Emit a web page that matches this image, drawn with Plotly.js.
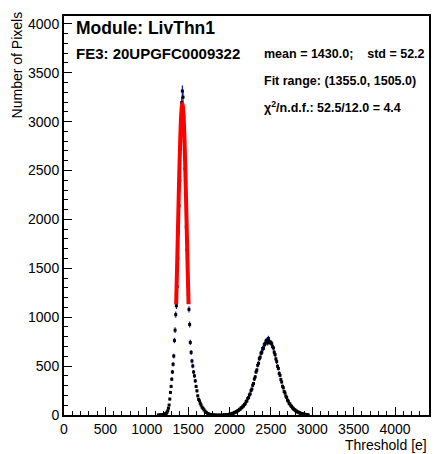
<!DOCTYPE html>
<html>
<head>
<meta charset="utf-8">
<script src="https://cdn.plot.ly/plotly-3.0.1.min.js"></script>
<style>
  html, body { margin: 0; padding: 0; background: #ffffff; }
  #chart { width: 434px; height: 454px; }
</style>
</head>
<body>
<div id="chart"></div>
<script>
// Threshold bin centres [e] and number of pixels per bin
const thresholdBins = [
  1140, 1160, 1180, 1195, 1210, 1222, 1230, 1238, 1246, 1254, 1262, 1270, 1278, 1286, 1294, 1302,
  1310, 1318, 1326, 1334, 1342, 1350, 1358, 1366, 1374, 1382, 1390, 1398, 1406, 1414, 1422, 1430,
  1438, 1446, 1454, 1462, 1470, 1478, 1486, 1494, 1502, 1510, 1518, 1526, 1536, 1546, 1556, 1566,
  1576, 1586, 1596, 1606, 1616, 1626, 1636, 1646, 1656, 1668, 1680, 1692, 1706, 1720, 1736, 1752,
  1770, 1790, 1810, 1830, 1860, 1890, 1920, 1940,
  1960, 1970, 1980, 1990, 2000, 2010, 2020, 2030, 2040, 2050, 2060, 2070, 2080, 2090, 2100, 2110,
  2120, 2130, 2140, 2150, 2160, 2170, 2180, 2190, 2200, 2210, 2220, 2230, 2240, 2250, 2260, 2270,
  2280, 2290, 2300, 2310, 2320, 2330, 2340, 2350, 2360, 2370, 2380, 2390, 2400, 2410, 2420, 2430,
  2440, 2450, 2460, 2470, 2480, 2490, 2500, 2510, 2520, 2530, 2540, 2550, 2560, 2570, 2580, 2590,
  2600, 2610, 2620, 2630, 2640, 2650, 2660, 2670, 2680, 2690, 2700, 2710, 2720, 2730, 2740, 2750,
  2760, 2770, 2780, 2790, 2800, 2810, 2820, 2830, 2840, 2850, 2860, 2870, 2880, 2890, 2900, 2910,
  2920, 2930, 2940, 2950
];
const pixelCounts = [
  1, 2, 3, 4, 6, 10, 14, 20, 30, 44, 70, 102, 163, 231, 292, 366,
  440, 518, 603, 762, 867, 1026, 1118, 1314, 1602, 1873, 2140, 2398, 2720, 2975, 3194, 3313,
  3250, 3050, 2800, 2517, 2261, 1924, 1687, 1416, 1230, 1080, 925, 742, 640, 552, 501, 440,
  400, 349, 292, 247, 196, 160, 145, 120, 102, 80, 68, 52, 38, 26, 16, 10,
  5, 3, 2, 1, 1, 1, 2, 2,
  3, 2, 5, 4, 8, 7, 12, 13, 18, 19, 26, 27, 35, 36, 46, 48,
  58, 60, 73, 75, 89, 93, 108, 115, 136, 144, 170, 178, 205, 216, 250, 266,
  304, 322, 368, 390, 440, 460, 508, 528, 575, 590, 632, 642, 680, 682, 720, 728,
  756, 762, 738, 782, 752, 742, 740, 728, 698, 686, 642, 618, 574, 546, 498, 476,
  426, 406, 362, 338, 294, 278, 240, 225, 194, 180, 152, 141, 119, 112, 95, 88,
  73, 68, 56, 52, 42, 40, 31, 30, 23, 22, 16, 15, 11, 10, 7, 7,
  4, 4, 2, 2
];

// Gaussian fit curve over the fit range
const fitX = [1355, 1365, 1375, 1385, 1395, 1405, 1415, 1425, 1430, 1435, 1445, 1455, 1465, 1475, 1485, 1495, 1505];
const fitY = [1133, 1465, 1826, 2193, 2540, 2836, 3052, 3165, 3180, 3165, 3052, 2836, 2540, 2193, 1826, 1465, 1133];

// Axis tick labels
const xTickVals = [0, 500, 1000, 1500, 2000, 2500, 3000, 3500, 4000];
const yTickVals = [0, 500, 1000, 1500, 2000, 2500, 3000, 3500, 4000];

// Text
const moduleText = "Module: LivThn1";
const feText = "FE3: 20UPGFC0009322";
const statsText = "mean = 1430.0;    std = 52.2";
const fitRangeText = "Fit range: (1355.0, 1505.0)";
const chi2Text = "\u03c7<sup>2</sup>/n.d.f.: 52.5/12.0 = 4.4";
const xTitle = "Threshold [e]";
const yTitle = "Number of Pixels";

const FONT = "Liberation Sans, Arial, Helvetica, sans-serif";

const dataTrace = {
  type: "scatter",
  mode: "markers",
  x: thresholdBins,
  y: pixelCounts,
  marker: { symbol: "square", size: 3, color: "#000000" },
  error_y: { type: "sqrt", visible: true, color: "#1414c8", thickness: 1.2, width: 0 },
  hoverinfo: "x+y",
  showlegend: false
};

const fitTrace = {
  type: "scatter",
  mode: "lines",
  x: fitX,
  y: fitY,
  line: { color: "#ff0000", width: 4, shape: "spline" },
  showlegend: false
};

const axisCommon = {
  showgrid: false,
  zeroline: false,
  showline: true,
  linecolor: "#000000",
  linewidth: 2,
  mirror: true,
  ticks: "inside",
  ticklen: 8,
  tickwidth: 1,
  tickcolor: "#000000",
  tickfont: { family: FONT, size: 14, color: "#000000" },
  tickmode: "array",
  minor: { ticks: "inside", ticklen: 4, tickwidth: 1, tickcolor: "#000000", dtick: 100, showgrid: false }
};

const layout = {
  width: 434,
  height: 454,
  margin: { l: 64, r: 5, t: 16, b: 39 },
  paper_bgcolor: "#ffffff",
  plot_bgcolor: "#ffffff",
  showlegend: false,
  xaxis: Object.assign({}, axisCommon, {
    range: [0, 4410],
    tickvals: xTickVals,
    ticktext: xTickVals.map(String)
  }),
  yaxis: Object.assign({}, axisCommon, {
    range: [0, 4080],
    tickvals: yTickVals,
    ticktext: yTickVals.map(String)
  }),
  annotations: [
    { text: "<b>" + moduleText + "</b>", xref: "paper", yref: "paper", x: 0.027, y: 0.970,
      xanchor: "left", yanchor: "middle", showarrow: false, font: { family: FONT, size: 17.5, color: "#000" } },
    { text: "<b>" + feText + "</b>", xref: "paper", yref: "paper", x: 0.027, y: 0.907,
      xanchor: "left", yanchor: "middle", showarrow: false, font: { family: FONT, size: 15, color: "#000" } },
    { text: "<b>" + statsText + "</b>", xref: "paper", yref: "paper", x: 0.542, y: 0.905,
      xanchor: "left", yanchor: "middle", showarrow: false, font: { family: FONT, size: 12.5, color: "#000" } },
    { text: "<b>" + fitRangeText + "</b>", xref: "paper", yref: "paper", x: 0.542, y: 0.837,
      xanchor: "left", yanchor: "middle", showarrow: false, font: { family: FONT, size: 12.5, color: "#000" } },
    { text: "<b>" + chi2Text + "</b>", xref: "paper", yref: "paper", x: 0.542, y: 0.772,
      xanchor: "left", yanchor: "middle", showarrow: false, font: { family: FONT, size: 12.5, color: "#000" } },
    { text: xTitle, xref: "paper", yref: "paper", x: 1.0, y: -0.076,
      xanchor: "right", yanchor: "middle", showarrow: false, font: { family: FONT, size: 14, color: "#000" } },
    { text: yTitle, xref: "paper", yref: "paper", x: -0.129, y: 1.0175, textangle: -90,
      xanchor: "center", yanchor: "top", showarrow: false, font: { family: FONT, size: 14, color: "#000" } }
  ]
};

Plotly.newPlot("chart", [dataTrace, fitTrace], layout, { staticPlot: true, displayModeBar: false });
</script>
</body>
</html>
